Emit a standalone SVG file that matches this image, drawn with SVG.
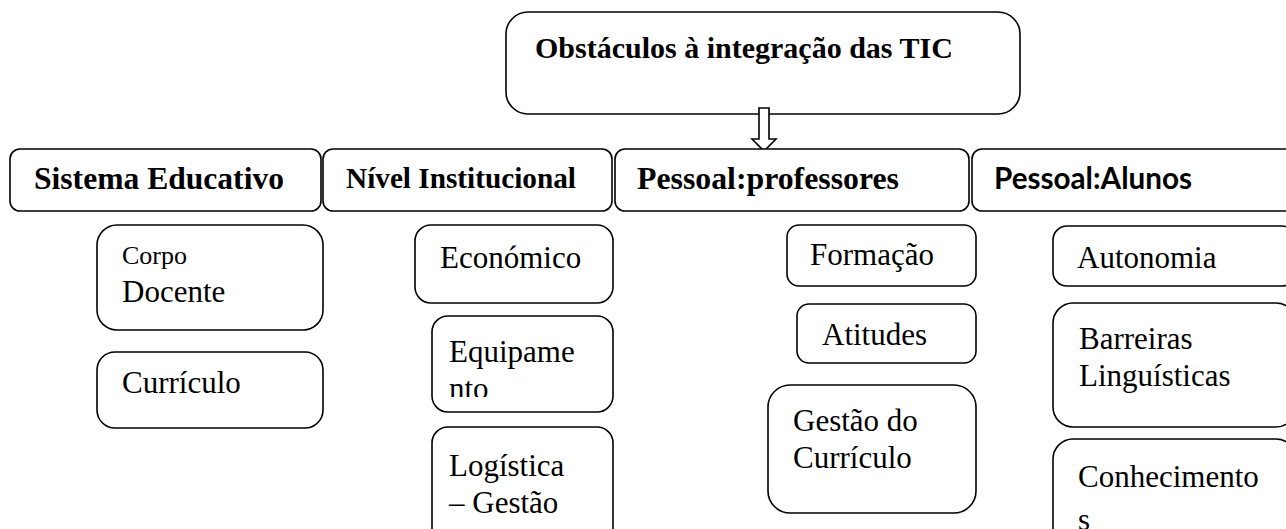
<svg xmlns="http://www.w3.org/2000/svg" width="1286" height="529" viewBox="0 0 1286 529">
<style>
.box{fill:#fff;stroke:#000;stroke-width:1.6}
.t{font-family:"Liberation Serif","Times New Roman",serif;fill:#000}
.b{font-weight:bold}
.r{font-size:31px}
.cal{font-family:Lato,"Liberation Sans",sans-serif;font-weight:bold;fill:#000}
</style>
<defs>
<clipPath id="clipEq"><rect x="432" y="316" width="181" height="81"/></clipPath>
</defs>
<rect width="1286" height="529" fill="#fff"/>

<g id="title">
<rect class="box" x="506" y="12" width="514" height="102" rx="22"/>
<text class="t b" x="535" y="58" font-size="30">Obstáculos à integração das TIC</text>
</g>

<g id="connectors">
<polygon class="box" points="759,108 769,108 769,139 776,139 764,151 752,139 759,139"/>
</g>

<g id="sistema">
<rect class="box" x="10" y="149" width="311" height="62" rx="10"/>
<text class="t b" x="34" y="189" font-size="31" textLength="250" lengthAdjust="spacingAndGlyphs">Sistema Educativo</text>
</g>
<g id="nivel">
<rect class="box" x="323" y="149" width="289" height="62" rx="10"/>
<text class="t b" x="346" y="188" font-size="29" textLength="230" lengthAdjust="spacingAndGlyphs">Nível Institucional</text>
</g>
<g id="professores">
<rect class="box" x="615" y="149" width="354" height="62" rx="10"/>
<text class="t b" x="637" y="189" font-size="31" textLength="262" lengthAdjust="spacingAndGlyphs">Pessoal:professores</text>
</g>
<g id="alunos">
<rect class="box" x="972" y="149" width="340" height="62" rx="10"/>
<text class="cal" x="994" y="189" font-size="30" textLength="198" lengthAdjust="spacingAndGlyphs">Pessoal:Alunos</text>
</g>

<g id="corpo-docente">
<rect class="box" x="97" y="225" width="226" height="105" rx="20"/>
<text class="t" x="122" y="264" font-size="26">Corpo</text>
<text class="t r" x="122" y="302">Docente</text>
</g>
<g id="curriculo">
<rect class="box" x="97" y="352" width="226" height="76" rx="18"/>
<text class="t r" x="122" y="393">Currículo</text>
</g>

<g id="economico">
<rect class="box" x="415" y="225" width="198" height="78" rx="16"/>
<text class="t r" x="440" y="268">Económico</text>
</g>
<g id="equipamento">
<rect class="box" x="432" y="316" width="181" height="96" rx="16"/>
<g clip-path="url(#clipEq)">
<text class="t r" x="449" y="362">Equipame</text>
<text class="t r" x="449" y="399">nto</text>
</g>
</g>
<g id="logistica">
<rect class="box" x="432" y="427" width="181" height="120" rx="16"/>
<text class="t r" x="449" y="476">Logística</text>
<text class="t r" x="449" y="513">– Gestão</text>
</g>

<g id="formacao">
<rect class="box" x="787" y="225" width="189" height="61" rx="12"/>
<text class="t r" x="810" y="265">Formação</text>
</g>
<g id="atitudes">
<rect class="box" x="797" y="304" width="179" height="59" rx="12"/>
<text class="t r" x="822" y="345">Atitudes</text>
</g>
<g id="gestao-curriculo">
<rect class="box" x="768" y="385" width="208" height="128" rx="22"/>
<text class="t r" x="793" y="431">Gestão do</text>
<text class="t r" x="793" y="468">Currículo</text>
</g>

<g id="autonomia">
<rect class="box" x="1053" y="226" width="243" height="60" rx="14"/>
<text class="t r" x="1077" y="268">Autonomia</text>
</g>
<g id="barreiras">
<rect class="box" x="1053" y="303" width="243" height="124" rx="20"/>
<text class="t r" x="1079" y="349">Barreiras</text>
<text class="t r" x="1079" y="386">Linguísticas</text>
</g>
<g id="conhecimentos">
<rect class="box" x="1053" y="439" width="243" height="120" rx="20"/>
<text class="t r" x="1078" y="487">Conhecimento</text>
<text class="t r" x="1078" y="530">s</text>
</g>
</svg>
